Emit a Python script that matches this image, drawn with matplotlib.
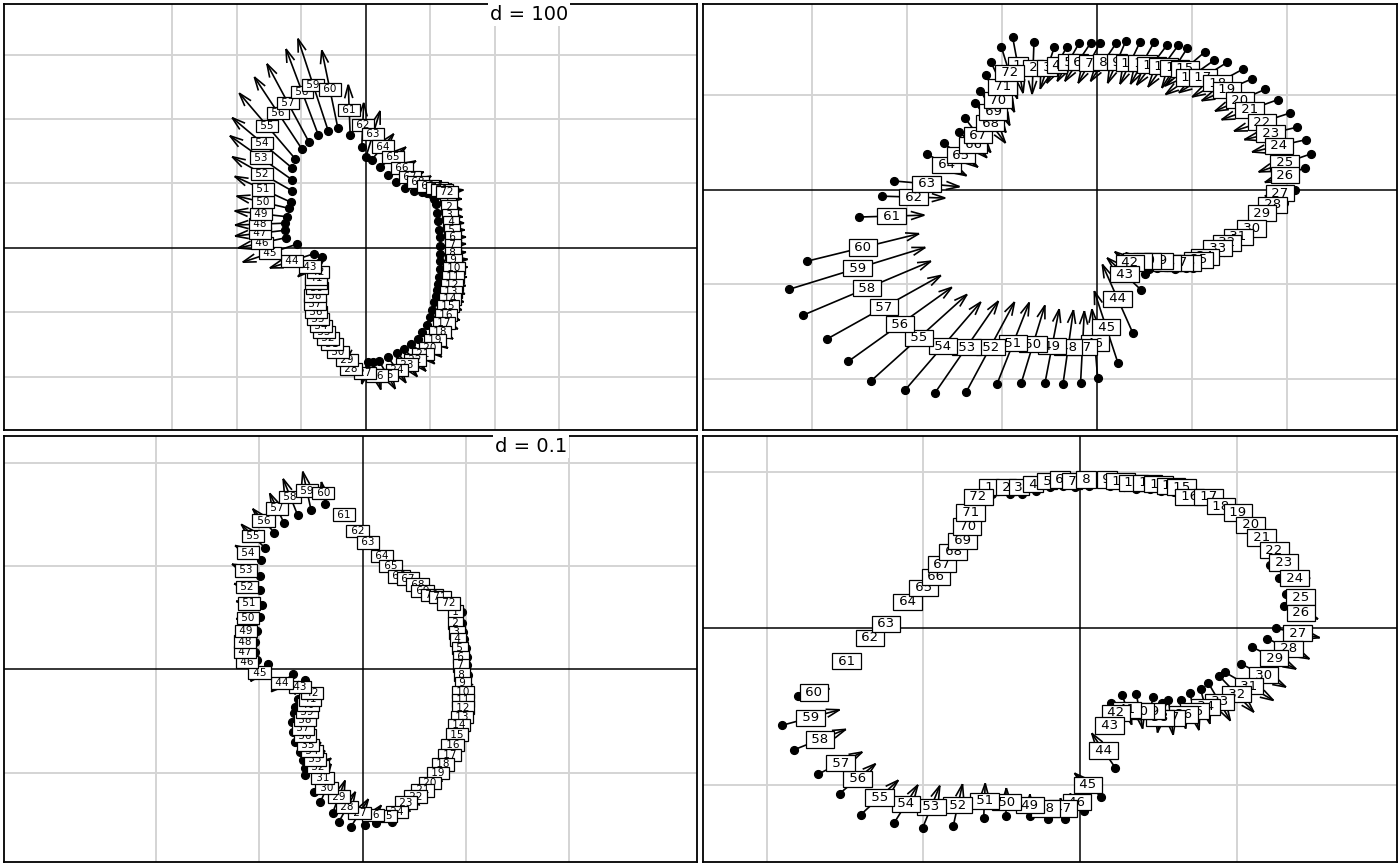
import numpy as np
import matplotlib
matplotlib.use("Agg")
import matplotlib.pyplot as plt
from matplotlib.collections import LineCollection

labels = [str(i) for i in range(1, 73)]

# top-left: label positions (midpoints) and shift vectors (tip - start)
tl_x = [127, 129, 130, 132, 133, 135, 135, 135, 136, 136, 135, 133, 132, 130, 127, 124, 121, 115,
        107, 99, 88, 76, 64, 48, 33, 17, -2, -23, -29, -43, -53, -59, -65, -70, -74, -78,
        -79, -79, -76, -78, -78, -74, -87, -115, -149, -161, -164, -164, -163, -160, -160, -161, -163, -161,
        -153, -136, -121, -99, -82, -56, -26, -5, 11, 26, 42, 56, 68, 81, 96, 110, 118, 126]
tl_y = [76, 64, 51, 40, 28, 17, 5, -8, -19, -31, -45, -57, -68, -79, -90, -104, -116, -130,
        -143, -155, -164, -174, -181, -189, -197, -198, -194, -188, -174, -161, -149, -140, -130, -121, -110, -99,
        -87, -74, -62, -54, -47, -37, -29, -20, -8, 8, 23, 37, 53, 71, 91, 115, 140, 163,
        189, 209, 225, 242, 253, 246, 214, 191, 177, 157, 141, 124, 110, 102, 96, 93, 90, 87]
tl_dx = [43, 40, 40, 40, 40, 40, 40, 40, 43, 43, 43, 43, 43, 43, 43, 43, 43, 40,
         40, 37, 37, 34, 31, 28, 25, 12, -9, -9, -6, -6, -6, -6, -6, -6, -6, -6,
         -6, -6, -6, -6, -6, -6, -37, -68, -84, -74, -78, -78, -81, -81, -87, -93, -96, -93,
         -87, -74, -65, -50, -47, -25, -3, 3, 22, 34, 40, 43, 43, 40, 43, 47, 47, 50]
tl_dy = [0, -9, -6, -3, 0, 0, 3, 3, 3, 3, 0, -3, -6, -9, -12, -16, -19, -22,
         -25, -28, -31, -34, -37, -40, -43, -43, -34, -19, -6, -6, -6, -6, -6, -6, -6, -6,
         -6, -6, -6, -6, -6, -6, -31, -22, -28, -16, -9, -3, 9, 19, 40, 53, 68, 78,
         102, 112, 121, 133, 143, 121, 78, 68, 71, 40, 31, 22, 16, 19, 16, 12, 9, 6]

# top-right
tr_x = [-0.83, -0.67, -0.52, -0.42, -0.30, -0.20, -0.08, 0.07, 0.21, 0.35, 0.48, 0.58, 0.70, 0.82, 0.93, 0.98, 1.12, 1.27,
        1.37, 1.51, 1.61, 1.74, 1.83, 1.92, 1.98, 1.98, 1.93, 1.85, 1.74, 1.63, 1.49, 1.37, 1.27, 1.14, 1.07, 0.95,
        0.86, 0.74, 0.65, 0.53, 0.43, 0.35, 0.29, 0.22, 0.10, -0.02, -0.15, -0.30, -0.47, -0.67, -0.88, -1.12, -1.37, -1.62,
        -1.87, -2.07, -2.24, -2.42, -2.52, -2.46, -2.16, -1.93, -1.79, -1.58, -1.43, -1.30, -1.25, -1.12, -1.09, -1.04, -0.99, -0.92]
tr_y = [1.31, 1.28, 1.28, 1.31, 1.34, 1.34, 1.33, 1.34, 1.34, 1.33, 1.33, 1.31, 1.30, 1.28, 1.27, 1.18, 1.18, 1.12,
        1.05, 0.94, 0.84, 0.71, 0.59, 0.46, 0.28, 0.15, -0.04, -0.16, -0.25, -0.41, -0.50, -0.56, -0.62, -0.71, -0.74, -0.77,
        -0.77, -0.77, -0.75, -0.75, -0.75, -0.77, -0.89, -1.15, -1.45, -1.62, -1.66, -1.66, -1.65, -1.63, -1.62, -1.66, -1.66, -1.65,
        -1.56, -1.42, -1.24, -1.04, -0.83, -0.61, -0.28, -0.08, 0.06, 0.26, 0.36, 0.47, 0.57, 0.70, 0.82, 0.94, 1.08, 1.23]
tr_dx = [0.11, -0.02, -0.15, -0.21, -0.23, -0.27, -0.23, -0.27, -0.19, -0.21, -0.25, -0.32, -0.32, -0.27, -0.42, -0.51, -0.51, -0.53,
         -0.53, -0.53, -0.59, -0.59, -0.55, -0.57, -0.55, -0.42, -0.32, -0.25, -0.21, -0.17, -0.13, -0.13, -0.13, -0.13, -0.13, -0.13,
         -0.15, -0.17, -0.19, -0.21, -0.25, -0.32, -0.36, -0.32, -0.25, -0.06, 0.04, 0.11, 0.15, 0.25, 0.34, 0.51, 0.67, 0.80,
         1.01, 1.09, 1.20, 1.35, 1.43, 1.18, 0.69, 0.67, 0.69, 0.42, 0.36, 0.29, 0.27, 0.32, 0.27, 0.25, 0.25, 0.17]
tr_dy = [-0.59, -0.55, -0.44, -0.38, -0.40, -0.40, -0.42, -0.40, -0.44, -0.44, -0.44, -0.42, -0.44, -0.42, -0.36, -0.36, -0.32, -0.29,
         -0.23, -0.23, -0.21, -0.19, -0.13, -0.13, -0.19, -0.15, -0.06, -0.04, 0.00, 0.04, 0.06, 0.06, 0.08, 0.08, 0.08, 0.11,
         0.11, 0.13, 0.13, 0.15, 0.17, 0.23, 0.34, 0.72, 0.76, 0.72, 0.76, 0.78, 0.78, 0.82, 0.86, 0.95, 0.97, 0.93,
         0.91, 0.78, 0.67, 0.57, 0.44, 0.29, 0.02, -0.02, -0.06, -0.23, -0.25, -0.27, -0.36, -0.42, -0.44, -0.53, -0.53, -0.55]

# bottom-left
bl_x = [0.090, 0.090, 0.091, 0.092, 0.094, 0.095, 0.095, 0.096, 0.097, 0.097, 0.097, 0.097, 0.096, 0.093, 0.091, 0.087, 0.084, 0.078,
        0.073, 0.065, 0.058, 0.051, 0.042, 0.033, 0.022, 0.010, -0.003, -0.015, -0.023, -0.035, -0.039, -0.043, -0.046, -0.049, -0.053, -0.056,
        -0.058, -0.056, -0.054, -0.053, -0.051, -0.049, -0.061, -0.078, -0.100, -0.112, -0.114, -0.114, -0.113, -0.111, -0.110, -0.112, -0.113, -0.111,
        -0.106, -0.096, -0.083, -0.070, -0.054, -0.038, -0.018, -0.005, 0.005, 0.019, 0.027, 0.035, 0.044, 0.053, 0.058, 0.067, 0.075, 0.083]
bl_y = [0.056, 0.045, 0.036, 0.029, 0.021, 0.012, 0.004, -0.005, -0.013, -0.022, -0.030, -0.037, -0.046, -0.054, -0.063, -0.073, -0.083, -0.092,
        -0.100, -0.110, -0.117, -0.123, -0.129, -0.138, -0.142, -0.141, -0.139, -0.133, -0.123, -0.115, -0.105, -0.094, -0.087, -0.079, -0.073, -0.064,
        -0.057, -0.049, -0.041, -0.034, -0.029, -0.023, -0.017, -0.013, -0.003, 0.007, 0.017, 0.027, 0.037, 0.050, 0.064, 0.080, 0.096, 0.113,
        0.129, 0.144, 0.156, 0.167, 0.173, 0.171, 0.150, 0.134, 0.123, 0.110, 0.100, 0.090, 0.088, 0.082, 0.076, 0.072, 0.070, 0.064]
bl_dx = [-0.012, -0.012, -0.012, -0.012, -0.012, -0.012, -0.012, -0.012, -0.006, -0.006, -0.006, -0.006, -0.006, -0.006, -0.006, -0.006, 0.0, 0.0,
         0.0, 0.0, 0.0, 0.0, 0.0, 0.010, 0.019, 0.016, 0.017, 0.016, 0.012, 0.012, 0.017, 0.025, 0.019, 0.017, 0.016, 0.019,
         0.019, 0.025, 0.025, 0.025, 0.023, 0.016, -0.010, -0.021, -0.017, -0.019, -0.019, -0.019, -0.021, -0.023, -0.025, -0.025, -0.027, -0.025,
         -0.023, -0.021, -0.014, -0.014, -0.008, -0.004, 0, 0, 0, 0, 0, 0, 0, 0, 0, 0, 0, 0]
bl_dy = [0.0, 0.0, 0.0, 0.0, 0.0, 0.0, 0.0, 0.0, 0.004, 0.004, 0.004, 0.004, 0.004, 0.004, 0.004, 0.004, 0.008, 0.008,
         0.008, 0.008, 0.008, 0.008, 0.008, 0.019, 0.014, 0.019, 0.027, 0.029, 0.031, 0.027, 0.027, 0.016, 0.017, 0.017, 0.014, 0.012,
         0.008, 0.004, 0.002, 0.004, 0.0, -0.006, -0.014, -0.017, -0.017, -0.004, 0.0, 0.0, 0.0, -0.002, 0.004, 0.006, 0.012, 0.014,
         0.023, 0.023, 0.029, 0.035, 0.037, 0.021, 0, 0, 0, 0, 0, 0, 0, 0, 0, 0, 0, 0]

# bottom-right
br_x = [-0.58, -0.47, -0.39, -0.30, -0.21, -0.13, -0.05, 0.04, 0.17, 0.26, 0.34, 0.43, 0.50, 0.58, 0.65, 0.70, 0.82, 0.90,
        1.01, 1.09, 1.16, 1.24, 1.30, 1.37, 1.41, 1.41, 1.39, 1.33, 1.24, 1.17, 1.08, 1.00, 0.89, 0.80, 0.73, 0.66,
        0.58, 0.51, 0.45, 0.38, 0.30, 0.23, 0.19, 0.15, 0.05, -0.02, -0.11, -0.22, -0.32, -0.47, -0.61, -0.78, -0.95, -1.11,
        -1.28, -1.42, -1.53, -1.66, -1.72, -1.70, -1.49, -1.34, -1.24, -1.10, -1.00, -0.92, -0.88, -0.81, -0.75, -0.72, -0.70, -0.65]
br_y = [0.90, 0.90, 0.90, 0.92, 0.94, 0.95, 0.94, 0.95, 0.95, 0.94, 0.93, 0.93, 0.92, 0.91, 0.90, 0.84, 0.84, 0.78,
        0.74, 0.66, 0.58, 0.50, 0.42, 0.32, 0.20, 0.10, -0.03, -0.13, -0.19, -0.30, -0.37, -0.42, -0.47, -0.50, -0.53, -0.55,
        -0.57, -0.57, -0.53, -0.53, -0.52, -0.54, -0.62, -0.78, -1.00, -1.11, -1.15, -1.15, -1.13, -1.11, -1.10, -1.13, -1.14, -1.12,
        -1.08, -0.96, -0.86, -0.71, -0.57, -0.41, -0.21, -0.06, 0.03, 0.17, 0.26, 0.33, 0.41, 0.49, 0.56, 0.65, 0.74, 0.84]
br_dx = [-0.04] * 15 + [0.06] * 7 + [0.18, 0.20, 0.19, 0.22, 0.28, 0.27, 0.28, 0.29, 0.31, 0.22, 0.14, 0.06, 0.06, 0.03,
         0.03, -0.03, -0.03, 0.04, 0.06, 0.06, -0.04, -0.15, -0.17, -0.09, -0.03, -0.03, 0.00, 0.00, 0.01, 0.06, 0.11, 0.15,
         0.24, 0.23, 0.28, 0.33, 0.37, 0.20] + [0] * 12
br_dy = [0.08] * 15 + [0.04] * 7 + [0.03, 0.00, -0.04, -0.08, -0.06, -0.13, -0.14, -0.15, -0.18, -0.23, -0.24, -0.22, -0.24, -0.18,
         -0.22, -0.19, -0.18, -0.22, -0.19, -0.13, 0.04, 0.22, 0.15, 0.11, 0.13, 0.13, 0.14, 0.18, 0.22, 0.27, 0.27, 0.24,
         0.22, 0.19, 0.14, 0.13, 0.10, 0.05] + [0] * 12

W, H = 1400, 866
fig = plt.figure(figsize=(W / 100, H / 100), dpi=100)


def panel(px, xlim, ylim, gx, gy):
    x0, y0, x1, y1 = px
    ax = fig.add_axes([x0 / W, 1 - y1 / H, (x1 - x0) / W, (y1 - y0) / H])
    ax.set_xlim(xlim)
    ax.set_ylim(ylim)
    ax.set_xticks([])
    ax.set_yticks([])
    for v in gx:
        ax.axvline(v, color="#d4d4d4", lw=1.4, zorder=1)
    for v in gy:
        ax.axhline(v, color="#d4d4d4", lw=1.4, zorder=1)
    ax.axvline(0, color="black", lw=1.1, zorder=2)
    ax.axhline(0, color="black", lw=1.1, zorder=2)
    for s in ax.spines.values():
        s.set_linewidth(1.3)
    return ax


def match(ax, x, y, dx, dy, fs):
    x, y, dx, dy = map(np.asarray, (x, y, dx, dy))
    xs, ys = x - dx / 2, y - dy / 2
    xe, ye = x + dx / 2, y + dy / 2
    ax.plot(xs, ys, "o", ms=5.6, color="black", zorder=3)
    p0 = ax.transData.transform(np.column_stack([xs, ys]))
    p1 = ax.transData.transform(np.column_stack([xe, ye]))
    segs = []
    for a, b in zip(p0, p1):
        v = b - a
        n = np.hypot(v[0], v[1])
        if n < 0.5:
            continue
        u = v / n
        segs.append([a, b])
        for ang in (np.radians(17), -np.radians(17)):
            c, s = np.cos(ang), np.sin(ang)
            r = np.array([u[0] * c - u[1] * s, u[0] * s + u[1] * c])
            segs.append([b, b - 14 * r])
    inv = ax.transData.inverted()
    segs = [inv.transform(np.array(s)) for s in segs]
    ax.add_collection(LineCollection(segs, colors="black", linewidths=1.2, zorder=4))
    for i in range(len(x)):
        ax.text(x[i], y[i], " " + labels[i] + " ", ha="center", va="center", fontsize=fs,
                zorder=5, bbox=dict(boxstyle="square,pad=0.12", fc="white", ec="black", lw=0.9))


ax1 = panel((4, 4, 697, 430), (-561.2, 513.2), (-282.2, 378.3),
            [-300, -200, -100, 100, 200, 300], [-200, -100, 100, 200, 300])
match(ax1, tl_x, tl_y, tl_dx, tl_dy, 7.5)
ax1.text(0.758, 0.997, "d = 100", transform=ax1.transAxes, ha="center", va="top", fontsize=14,
         zorder=6, bbox=dict(boxstyle="square,pad=0.1", fc="white", ec="none"))

ax2 = panel((703, 4, 1397, 430), (-4.144, 3.161), (-2.532, 1.953),
            [-3, -2, -1, 1, 2], [-2, -1, 1])
match(ax2, tr_x, tr_y, tr_dx, tr_dy, 9.5)

ax3 = panel((4, 436, 697, 862), (-0.3472, 0.3236), (-0.1864, 0.2260),
            [-0.2, -0.1, 0.1, 0.2], [-0.1, 0.1, 0.2])
match(ax3, bl_x, bl_y, bl_dx, bl_dy, 7.5)
ax3.text(0.760, 0.997, "d = 0.1", transform=ax3.transAxes, ha="center", va="top", fontsize=14,
         zorder=6, bbox=dict(boxstyle="square,pad=0.1", fc="white", ec="none"))

ax4 = panel((703, 436, 1397, 862), (-2.407, 2.024), (-1.492, 1.228),
            [-2, -1, 1], [-1, 1])
match(ax4, br_x, br_y, br_dx, br_dy, 9.5)

fig.savefig("out.png", dpi=100)
